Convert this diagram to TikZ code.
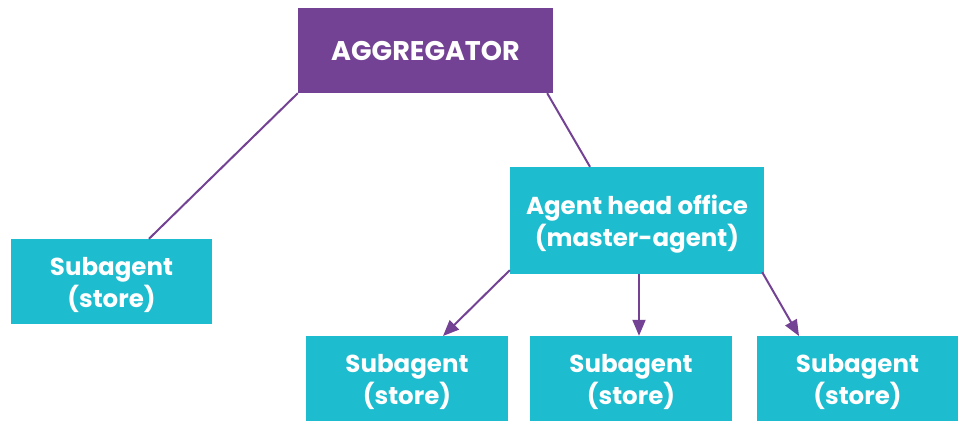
\documentclass[tikz,border=0pt]{standalone}
\usepackage{fontspec}
\setmainfont{Poppins}
\usetikzlibrary{arrows.meta}
\definecolor{agpurple}{HTML}{744294}
\definecolor{agcyan}{HTML}{1DBCCF}
\newcommand{\twolines}[2]{\raisebox{0pt}[\dimexpr\height+7pt\relax][\depth]{\begin{tabular}{@{}c@{}}#1\\#2\end{tabular}}}
\tikzset{
  box/.style={fill=agcyan, draw=none, text=white, font=\bfseries\fontsize{24.5}{31}\selectfont, align=center, inner sep=0pt},
  topbox/.style={fill=agpurple, draw=none, text=white, font=\bfseries\fontsize{27}{30}\selectfont, align=center, inner sep=0pt},
  link/.style={draw=agpurple, line width=2pt},
  arr/.style={link, -{Triangle[length=16pt,width=13pt]}}
}
\begin{document}
\begin{tikzpicture}[x=1pt,y=-1pt]
\useasboundingbox (0,0) rectangle (962,421);
\node[topbox, minimum width=255pt, minimum height=85pt] (agg) at (425.5,50.5) {AGGREGATOR};
\node[box, minimum width=254pt, minimum height=107pt] (head) at (637,220.5) {\twolines{Agent head office}{(master-agent)}};
\node[box, minimum width=201pt, minimum height=85pt] (s0) at (111.5,281.5) {\twolines{Subagent}{(store)}};
\node[box, minimum width=202pt, minimum height=85pt] (s1) at (407,378.5) {\twolines{Subagent}{(store)}};
\node[box, minimum width=202pt, minimum height=85pt] (s2) at (631,378.5) {\twolines{Subagent}{(store)}};
\node[box, minimum width=201pt, minimum height=85pt] (s3) at (857.5,378.5) {\twolines{Subagent}{(store)}};
\draw[link] (agg.south west) -- (s0.north west -| 149,0 |- s0.north);
\draw[link] (agg.south east) ++(-6,0) coordinate (a1) (a1) -- (head.north west -| 590,0 |- head.north);
\draw[arr] (head.south west) ++(0,-4) coordinate (h1) (h1) -- (443,336);
\draw[arr] (head.south -| 639,0) -- (s2.north -| 639,0);
\draw[arr] (head.south east) ++(-2,-2) coordinate (h3) (h3) -- (799,336);
\end{tikzpicture}
\end{document}
